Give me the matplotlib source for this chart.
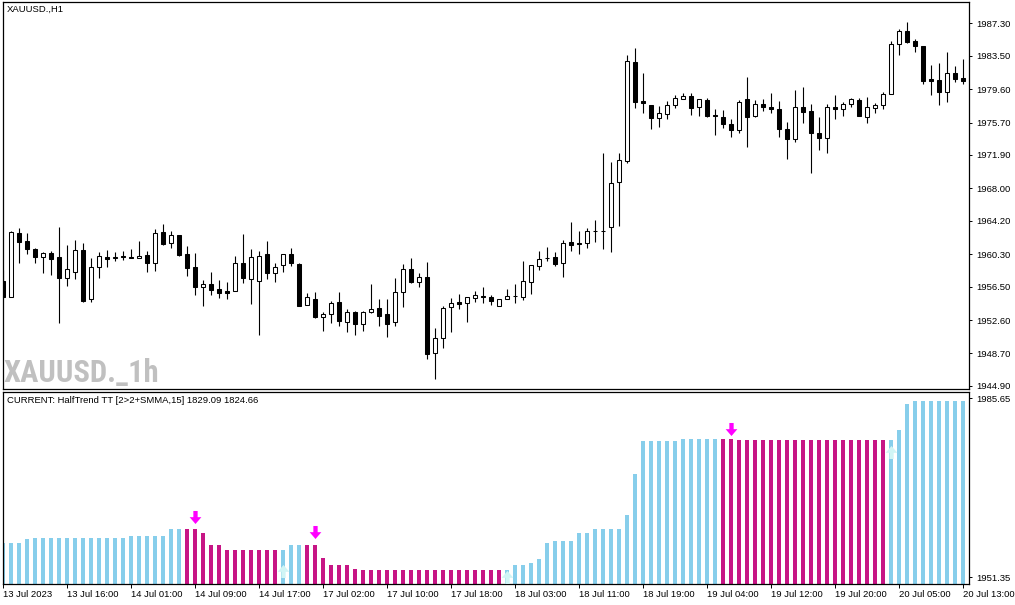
import numpy as np
import matplotlib
matplotlib.use("Agg")
import matplotlib.pyplot as plt
from matplotlib.path import Path

# ---------------- data ----------------
opens = [
    1957.16, 1955.33, 1962.81, 1961.84, 1960.94, 1960.01, 1960.40, 1959.94, 1957.48, 1958.25,
    1960.79, 1955.02, 1958.77, 1959.94, 1959.90, 1960.12, 1959.98, 1959.82, 1960.21, 1959.30,
    1962.86, 1961.57, 1962.54, 1960.32, 1958.80, 1956.50, 1956.81, 1956.23, 1955.99, 1956.03,
    1959.23, 1957.36, 1957.16, 1960.29, 1958.06, 1959.04, 1960.29, 1959.12, 1954.32, 1955.02,
    1952.99, 1953.27, 1954.67, 1952.33, 1953.50, 1952.10, 1953.57, 1953.97, 1953.27, 1952.33,
    1955.84, 1958.57, 1957.08, 1957.60, 1948.71, 1950.46, 1954.09, 1954.67, 1954.56, 1955.14,
    1955.45, 1955.26, 1954.28, 1955.02, 1955.37, 1955.33, 1957.08, 1958.95, 1959.89, 1959.97,
    1959.23, 1961.73, 1961.61, 1961.57, 1962.98, 1962.98, 1963.44, 1968.71, 1971.16, 1982.74,
    1978.18, 1977.71, 1976.19, 1976.66, 1977.71, 1978.42, 1978.77, 1977.48, 1978.30, 1976.58,
    1976.31, 1975.49, 1974.79, 1978.42, 1976.50, 1977.83, 1977.48, 1977.25, 1974.91, 1973.74,
    1977.48, 1977.01, 1974.51, 1973.85, 1977.48, 1977.25, 1977.83, 1978.33, 1976.31, 1977.36,
    1977.71, 1979.00, 1984.85, 1986.40, 1985.20, 1984.68, 1980.79, 1980.64, 1979.23, 1981.46,
    1980.87,
]
highs = [
    1958.45, 1963.01, 1963.33, 1962.74, 1961.06, 1960.52, 1960.67, 1963.48, 1961.37, 1961.96,
    1961.57, 1959.82, 1960.52, 1960.82, 1960.52, 1960.67, 1960.91, 1961.84, 1960.67, 1963.25,
    1963.83, 1963.01, 1962.54, 1961.26, 1960.47, 1957.28, 1958.22, 1957.28, 1957.01, 1960.09,
    1962.66, 1960.91, 1960.67, 1961.84, 1959.23, 1960.29, 1960.99, 1959.23, 1955.73, 1955.84,
    1953.57, 1954.82, 1955.84, 1953.89, 1953.66, 1953.66, 1956.81, 1955.06, 1955.06, 1957.55,
    1959.15, 1959.82, 1958.06, 1959.42, 1951.70, 1954.28, 1955.21, 1955.64, 1955.33, 1955.99,
    1956.50, 1955.53, 1955.02, 1956.19, 1956.81, 1959.54, 1959.00, 1960.71, 1961.11, 1960.59,
    1961.96, 1964.06, 1963.01, 1963.36, 1964.30, 1972.17, 1971.12, 1972.10, 1983.60, 1984.42,
    1981.49, 1977.71, 1977.63, 1978.22, 1978.92, 1979.12, 1979.12, 1978.42, 1978.53, 1977.28,
    1977.16, 1976.08, 1978.33, 1980.99, 1978.33, 1978.42, 1979.12, 1978.22, 1975.80, 1979.50,
    1979.82, 1977.83, 1976.38, 1977.83, 1978.92, 1978.14, 1978.53, 1978.53, 1978.65, 1977.95,
    1979.30, 1985.20, 1986.60, 1987.42, 1985.43, 1984.68, 1982.43, 1982.70, 1983.91, 1982.31,
    1983.13,
]
lows = [
    1955.18, 1955.29, 1959.30, 1960.29, 1959.30, 1958.13, 1957.87, 1952.29, 1956.61, 1957.40,
    1954.67, 1954.67, 1957.48, 1958.77, 1959.54, 1959.62, 1959.82, 1959.82, 1958.25, 1958.33,
    1961.37, 1961.06, 1960.12, 1957.75, 1955.53, 1954.28, 1955.53, 1955.14, 1955.02, 1956.03,
    1956.89, 1954.44, 1950.85, 1957.36, 1957.08, 1958.18, 1958.95, 1954.20, 1954.32, 1952.80,
    1951.32, 1952.29, 1951.90, 1951.23, 1950.85, 1951.35, 1953.39, 1951.90, 1950.58, 1951.94,
    1954.16, 1956.89, 1956.50, 1948.01, 1945.67, 1949.29, 1951.23, 1953.85, 1952.33, 1954.74,
    1954.56, 1954.36, 1954.28, 1955.02, 1954.56, 1954.94, 1955.64, 1958.45, 1959.54, 1958.92,
    1957.67, 1960.71, 1960.36, 1961.06, 1961.69, 1960.91, 1960.59, 1963.63, 1971.00, 1977.43,
    1976.85, 1974.98, 1975.21, 1976.15, 1977.36, 1978.42, 1976.61, 1976.46, 1976.31, 1974.24,
    1975.09, 1974.04, 1974.51, 1972.87, 1976.38, 1977.08, 1976.85, 1974.04, 1971.47, 1973.46,
    1975.61, 1969.76, 1972.49, 1972.10, 1976.15, 1976.50, 1977.48, 1976.45, 1975.61, 1976.78,
    1977.25, 1979.00, 1983.63, 1985.04, 1983.98, 1980.17, 1978.92, 1977.75, 1978.14, 1980.40,
    1980.17,
]
closes = [
    1955.29, 1962.93, 1961.76, 1960.87, 1959.94, 1960.40, 1959.77, 1957.48, 1958.53, 1960.79,
    1954.83, 1958.77, 1960.05, 1959.77, 1959.92, 1959.94, 1959.84, 1960.05, 1959.30, 1962.74,
    1961.49, 1962.54, 1960.21, 1958.72, 1956.50, 1956.81, 1956.15, 1955.80, 1955.80, 1959.23,
    1957.48, 1960.01, 1960.12, 1958.06, 1958.84, 1960.29, 1959.23, 1954.28, 1955.29, 1952.99,
    1953.27, 1954.56, 1952.52, 1953.50, 1952.10, 1953.57, 1953.89, 1953.11, 1952.17, 1955.84,
    1958.57, 1957.08, 1957.60, 1948.59, 1950.46, 1953.97, 1954.56, 1954.51, 1955.26, 1955.49,
    1955.33, 1954.86, 1955.02, 1955.37, 1955.39, 1957.16, 1959.00, 1959.70, 1959.91, 1959.19,
    1961.57, 1961.41, 1961.46, 1962.98, 1963.00, 1963.00, 1968.59, 1971.28, 1982.86, 1978.06,
    1977.95, 1976.26, 1976.78, 1977.71, 1978.53, 1978.77, 1977.43, 1978.42, 1976.50, 1976.43,
    1975.49, 1974.79, 1978.06, 1976.38, 1977.83, 1977.48, 1977.25, 1974.91, 1973.74, 1977.48,
    1976.97, 1974.51, 1973.85, 1977.48, 1977.25, 1977.83, 1978.42, 1976.50, 1977.48, 1977.71,
    1979.00, 1984.85, 1986.40, 1985.12, 1984.61, 1980.59, 1980.52, 1979.23, 1981.46, 1980.79,
    1980.52,
]

# HalfTrend histogram values and trend direction (u = up / sky blue, d = down / violet)
halftrend = [
    1957.92, 1957.92, 1957.92, 1958.69, 1958.88, 1958.88, 1958.88, 1958.88, 1958.88, 1958.88,
    1958.88, 1958.88, 1958.88, 1958.88, 1958.88, 1958.88, 1959.27, 1959.27, 1959.27, 1959.27,
    1959.27, 1960.61, 1960.61, 1960.61, 1960.61, 1959.84, 1957.54, 1957.54, 1956.58, 1956.58,
    1956.58, 1956.58, 1956.58, 1956.58, 1956.58, 1956.58, 1957.54, 1957.54, 1957.54, 1957.54,
    1955.05, 1953.71, 1953.71, 1953.71, 1952.94, 1952.75, 1952.75, 1952.75, 1952.75, 1952.75,
    1952.75, 1952.75, 1952.75, 1952.75, 1952.75, 1952.75, 1952.75, 1952.75, 1952.75, 1952.75,
    1952.75, 1952.75, 1952.75, 1952.75, 1953.71, 1953.71, 1954.03, 1954.86, 1957.92, 1958.31,
    1958.31, 1958.31, 1959.84, 1959.84, 1960.61, 1960.61, 1960.61, 1960.61, 1963.29, 1971.15,
    1977.47, 1977.47, 1977.47, 1977.47, 1977.47, 1977.85, 1977.85, 1977.85, 1977.85, 1977.85,
    1977.85, 1977.85, 1977.66, 1977.66, 1977.66, 1977.66, 1977.66, 1977.66, 1977.66, 1977.66,
    1977.66, 1977.66, 1977.66, 1977.66, 1977.66, 1977.66, 1977.66, 1977.66, 1977.66, 1977.66,
    1977.66, 1977.66, 1979.58, 1984.56, 1985.13, 1985.13, 1985.13, 1985.13, 1985.13, 1985.13,
    1985.13,
]
trend = ("uuuuuuuuuuuuuuuuuuuuuuu"
         "dddddddddddd"
         "uuu"
         "ddddddddddddddddddddddddd"
         "uuuuuuuuuuuuuuuuuuuuuuuuuuu"
         "ddddddddddddddddddddd"
         "uuuuuuuuuu")

sell_arrow_bar = [24, 39, 91]
sell_arrow_val = [1963.00, 1960.03, 1979.67]
buy_arrow_bar = [35, 63, 111]
buy_arrow_val = [1952.60, 1951.50, 1975.36]

time_tick_bar = [0, 8, 16, 24, 32, 40, 48, 56, 64, 72, 80, 88, 96, 104, 112, 120]
time_tick_label = ["13 Jul 2023", "13 Jul 16:00", "14 Jul 01:00", "14 Jul 09:00",
                   "14 Jul 17:00", "17 Jul 02:00", "17 Jul 10:00", "17 Jul 18:00",
                   "18 Jul 03:00", "18 Jul 11:00", "18 Jul 19:00", "19 Jul 04:00",
                   "19 Jul 12:00", "19 Jul 20:00", "20 Jul 05:00", "20 Jul 13:00"]
price_ticks = [1987.30, 1983.50, 1979.60, 1975.70, 1971.90, 1968.00,
               1964.20, 1960.30, 1956.50, 1952.60, 1948.70, 1944.90]
ind_ticks = [1985.65, 1951.35]

# ---------------- style ----------------
plt.rcParams['font.family'] = ['Liberation Sans', 'DejaVu Sans']
FS = 6.8
UP_COL = '#87CEEB'
DN_COL = '#C71585'

W, H = 1015, 605
fig = plt.figure(figsize=(W / 100, H / 100), dpi=100)
fig.patch.set_facecolor('white')

ax = fig.add_axes([2.5 / W, 1 - 389 / H, (969 - 2.5) / W, (389 - 2.3) / H])
ax2 = fig.add_axes([2.5 / W, 1 - 584 / H, (969 - 2.5) / W, (584 - 391.5) / H])

n = len(opens)
x = np.arange(n)
o = np.array(opens); c = np.array(closes)
hi = np.array(highs); lo = np.array(lows)

# candles
ax.vlines(x, lo, hi, color='black', linewidth=0.8, zorder=1)
body_bottom = np.minimum(o, c)
body_h = np.abs(c - o)
body_col = ['white' if cc >= oo else 'black' for oo, cc in zip(o, c)]
ax.bar(x, body_h, bottom=body_bottom, width=0.56, color=body_col,
       edgecolor='black', linewidth=0.75, zorder=2)

ax.set_xlim(-0.0625, 120.75)
ax.set_ylim(1944.53, 1989.76)
ax.set_xticks([])
ax.yaxis.tick_right()
ax.set_yticks(price_ticks)
ax.set_yticklabels([f"{v:.2f}" for v in price_ticks])
ax.tick_params(axis='y', direction='out', length=2.5, width=0.7, pad=2.5,
               labelsize=FS, colors='black')

# HalfTrend histogram
base = 1950.07
hv = np.array(halftrend)
bar_col = [UP_COL if t == 'u' else DN_COL for t in trend]
ax2.bar(x, hv - base, bottom=base, width=0.38, color=bar_col, linewidth=0, zorder=2)

verts_dn = [(-0.33, 1.0), (0.33, 1.0), (0.33, 0.05), (0.9, 0.05), (0.0, -1.0),
            (-0.9, 0.05), (-0.33, 0.05), (-0.33, 1.0)]
codes = [Path.MOVETO] + [Path.LINETO] * 6 + [Path.CLOSEPOLY]
arrow_dn = Path(verts_dn, codes)
arrow_up = Path([(vx, -vy) for vx, vy in verts_dn], codes)
ax2.scatter(sell_arrow_bar, sell_arrow_val, marker=arrow_dn, s=88,
            color='#FF00FF', linewidths=0, zorder=4)
ax2.scatter(buy_arrow_bar, buy_arrow_val, marker=arrow_up, s=88,
            color='#D0F5F5', linewidths=0, zorder=4)

ax2.set_xlim(-0.0625, 120.75)
ax2.set_ylim(base, 1986.95)
ax2.yaxis.tick_right()
ax2.set_yticks(ind_ticks)
ax2.set_yticklabels([f"{v:.2f}" for v in ind_ticks])
ax2.tick_params(axis='y', direction='out', length=2.5, width=0.7, pad=2.5,
                labelsize=FS, colors='black')
ax2.set_xticks(time_tick_bar)
ax2.set_xticklabels(time_tick_label, ha='left')
ax2.tick_params(axis='x', direction='out', length=3, width=0.7, pad=1.5,
                labelsize=FS, colors='black')

for a in (ax, ax2):
    for s in a.spines.values():
        s.set_linewidth(0.9)
        s.set_color('black')

# texts
fig.text(7 / W, 1 - 9 / H, "XAUUSD.,H1", ha='left', va='center', fontsize=FS)
fig.text(7 / W, 1 - 400.7 / H, "CURRENT: HalfTrend TT [2>2+SMMA,15] 1829.09 1824.66",
         ha='left', va='center', fontsize=FS)
fig.text(3 / W, 1 - 381.5 / H, "XAUUSD._1h", ha='left', va='baseline',
         fontsize=22, fontweight='heavy', color='#C0C0C0',
         family=['Roboto Condensed', 'Open Sans Condensed', 'DejaVu Sans Condensed',
                 'Liberation Sans Narrow', 'Roboto'])

fig.savefig("out.png", dpi=100, facecolor='white')
